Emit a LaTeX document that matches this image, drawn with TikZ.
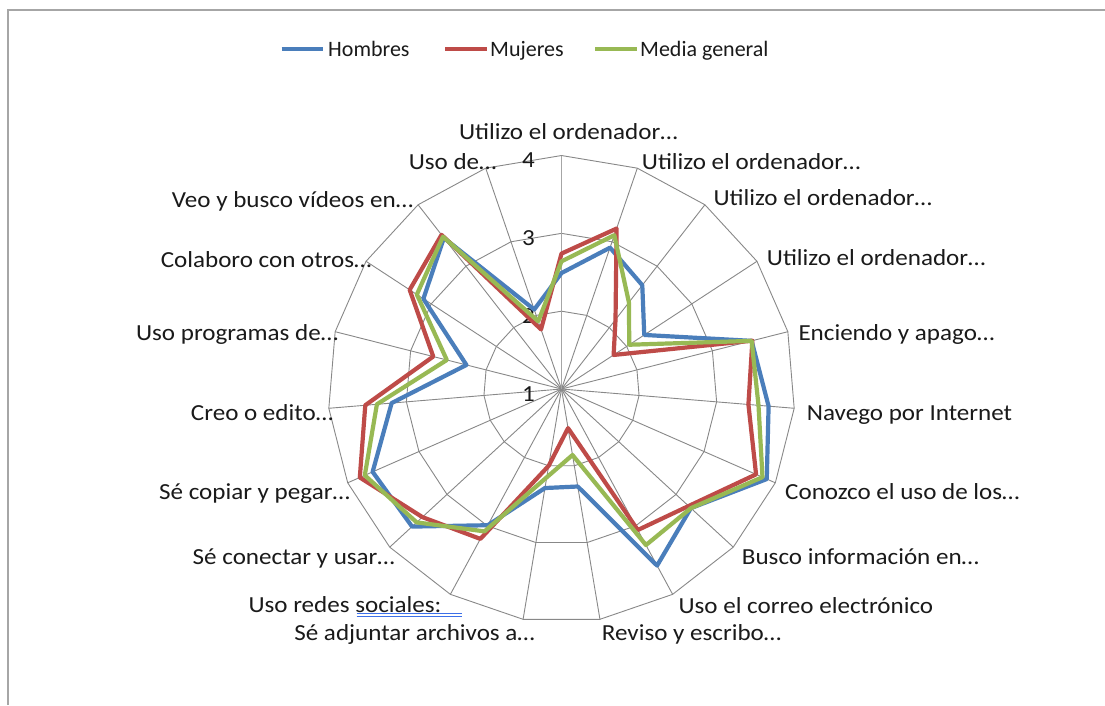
\documentclass[tikz,border=0pt]{standalone}
\usepackage{fontspec}
\setmainfont{Carlito}
\newfontfamily\lblfont[FakeStretch=1.09]{Carlito}
\definecolor{serBlue}{HTML}{4A7EBB}
\definecolor{serRed}{HTML}{BE4B48}
\definecolor{serGreen}{HTML}{98B954}
\definecolor{gridgray}{HTML}{888888}
\definecolor{axisgray}{HTML}{A6A6A6}
\definecolor{framegray}{HTML}{A6A6A6}
\definecolor{txt}{HTML}{1A1A1A}
\definecolor{spellblue}{HTML}{3C6FE8}
\def\cx{561.5}
\def\cy{389}
\def\R{77.83}
\newcommand\radarseries[3]{%
  \draw[series,#1] ({\cx},{\cy-(#2-1)*\R})
    \foreach \v [count=\k] in {#3}{ -- ({\cx+(\v-1)*\R*sin(\k*360/19)},{\cy-(\v-1)*\R*cos(\k*360/19)}) } -- cycle;}
\begin{document}
\begin{tikzpicture}[x=1pt,y=-1pt,
  gridline/.style={draw=gridgray, line width=0.9pt},
  series/.style={line width=4.2pt, line join=round, line cap=round},
  lbl/.style={font=\lblfont\fontsize{23}{23}\selectfont, text=txt, inner sep=0pt},
  leg/.style={font=\fontsize{22}{22}\selectfont, text=txt, inner sep=0pt, anchor=base west},
  legline/.style={line width=4.2pt},
]
\useasboundingbox (0,0) rectangle (1105,705);
\fill[white] (0,0) rectangle (1105,705);
\draw[framegray, line width=1.8pt] (8,705) -- (8,10) -- (1105,10);

% rings
\foreach \v in {1,2,3}{
  \draw[gridline] ({\cx},{\cy-\v*\R})
    \foreach \k in {1,...,18}{ -- ({\cx+\v*\R*sin(\k*360/19)},{\cy-\v*\R*cos(\k*360/19)}) } -- cycle;
}
% spokes
\foreach \k in {1,...,18}{
  \draw[gridline] (\cx,\cy) -- ({\cx+3*\R*sin(\k*360/19)},{\cy-3*\R*cos(\k*360/19)});
}
\draw[axisgray, line width=1.4pt] (\cx,\cy) -- ({\cx},{\cy-3*\R});

% value labels
\foreach \n/\v in {1/0,2/1,3/2,4/3}{
  \node[lbl, anchor=base east] (tick\n) at (535,{\cy-\v*\R+12.3}) {\n};
}

% series
\radarseries{serBlue}{2.49}{2.92,2.69,2.27,3.52,3.67,3.88,3.26,3.58,2.27,2.29,2.99,3.61,3.65,3.19,2.26,3.12,3.46,2.08}
\radarseries{serRed}{2.74}{3.18,2.13,1.80,3.53,3.41,3.73,3.22,3.06,1.51,2.00,3.19,3.43,3.83,3.53,2.70,3.33,3.51,1.81}
\radarseries{serGreen}{2.64}{3.09,2.41,2.04,3.52,3.54,3.82,3.26,3.28,1.86,2.15,3.08,3.53,3.76,3.38,2.52,3.22,3.48,1.92}

% category labels
\node[lbl, anchor=base] (c0) at (568.3,139.3) {Utilizo el ordenador…};
\node[lbl, anchor=base west] (c1) at (641.7,169.3) {Utilizo el ordenador…};
\node[lbl, anchor=base west] (c2) at (713.3,205.5) {Utilizo el ordenador…};
\node[lbl, anchor=base west] (c3) at (766.7,265.5) {Utilizo el ordenador…};
\node[lbl, anchor=base west] (c4) at (798.3,340.8) {Enciendo y apago…};
\node[lbl, anchor=base west] (c5) at (806.7,420.8) {Navego por Internet};
\node[lbl, anchor=base west] (c6) at (785,499.2) {Conozco el uso de los…};
\node[lbl, anchor=base west] (c7) at (741.7,564.2) {Busco información en…};
\node[lbl, anchor=base west] (c8) at (678.3,613.5) {Uso el correo electrónico};
\node[lbl, anchor=base west] (c9) at (601.7,640.8) {Reviso y escribo…};
\node[lbl, anchor=base east] (c10) at (535,640.8) {Sé adjuntar archivos a…};
\node[lbl, anchor=base west] (c11) at (248.3,612.5) {Uso redes sociales:};
\node[lbl, anchor=base east] (c12) at (395,564.2) {Sé conectar y usar…};
\node[lbl, anchor=base east] (c13) at (350,499.2) {Sé copiar y pegar…};
\node[lbl, anchor=base east] (c14) at (333.3,420.8) {Creo o edito…};
\node[lbl, anchor=base east] (c15) at (338.3,340.8) {Uso programas de…};
\node[lbl, anchor=base east] (c16) at (371.7,267.5) {Colaboro con otros…};
\node[lbl, anchor=base east] (c17) at (413.3,207.5) {Veo y busco vídeos en…};
\node[lbl, anchor=base east] (c18) at (496.7,169.3) {Uso de…};
% spell-check double underline
\draw[spellblue, line width=0.9pt] (356.7,613.6) -- (461.7,613.6);
\draw[spellblue, line width=0.9pt] (356.7,616.4) -- (461.7,616.4);

% legend
\draw[legline, serBlue] (281.7,49.3) -- (323.3,49.3);
\node[leg] (lh) at (328,56.7) {Hombres};
\draw[legline, serRed] (445,49.3) -- (486.7,49.3);
\node[leg] (lm) at (490,56.7) {Mujeres};
\draw[legline, serGreen] (595,49.3) -- (636.7,49.3);
\node[leg] (lg) at (640,56.7) {Media general};
\end{tikzpicture}
\end{document}
